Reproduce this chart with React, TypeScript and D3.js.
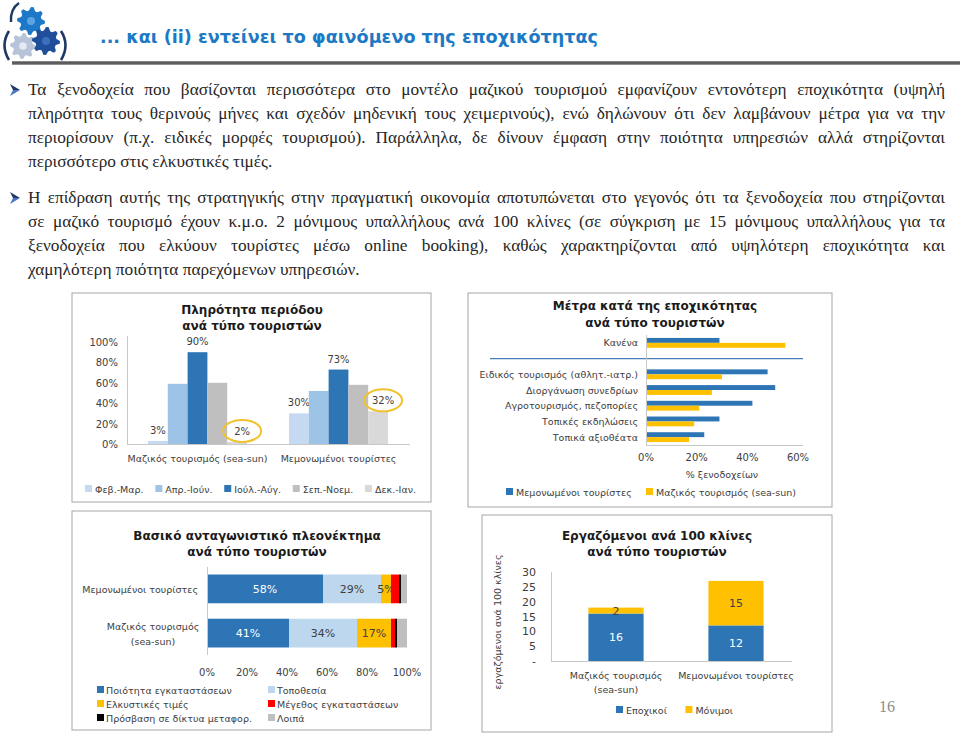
import { useEffect, useRef } from "react";
import * as d3 from "d3";

const SANS = "'DejaVu Sans', Verdana, sans-serif";
const SERIF = "'Liberation Serif', 'Times New Roman', serif";
const INK = "#404040";
const AXIS = "#c8c8c8";
const BLUE = "#2e75b6";
const GOLD = "#ffc000";

/* ---- page text ---- */
const TITLE = "... και (ii) εντείνει το φαινόμενο της εποχικότητας";
const PARA_1 = [
  "Τα ξενοδοχεία που βασίζονται περισσότερα στο μοντέλο μαζικού τουρισμού εμφανίζουν εντονότερη εποχικότητα (υψηλή",
  "πληρότητα τους θερινούς μήνες και σχεδόν μηδενική τους χειμερινούς), ενώ δηλώνουν ότι δεν λαμβάνουν μέτρα για να την",
  "περιορίσουν (π.χ. ειδικές μορφές τουρισμού). Παράλληλα, δε δίνουν έμφαση στην ποιότητα υπηρεσιών αλλά στηρίζονται",
  "περισσότερο στις ελκυστικές τιμές.",
];
const PARA_2 = [
  "Η επίδραση αυτής της στρατηγικής στην πραγματική οικονομία αποτυπώνεται στο γεγονός ότι τα ξενοδοχεία που στηρίζονται",
  "σε μαζικό τουρισμό έχουν κ.μ.ο. 2 μόνιμους υπαλλήλους ανά 100 κλίνες (σε σύγκριση με 15 μόνιμους υπαλλήλους για τα",
  "ξενοδοχεία που ελκύουν τουρίστες μέσω online booking), καθώς χαρακτηρίζονται από υψηλότερη εποχικότητα και",
  "χαμηλότερη ποιότητα παρεχόμενων υπηρεσιών.",
];

/* ---- chart 1: occupancy by period ---- */
const occGroups = ["Μαζικός τουρισμός (sea-sun)", "Μεμονωμένοι τουρίστες"];
const occPeriods = ["Φεβ.-Μαρ.", "Απρ.-Ιούν.", "Ιούλ.-Αύγ.", "Σεπ.-Νοεμ.", "Δεκ.-Ιαν."];
const occMass = [3, 59, 90, 60, 2];
const occIndividual = [30, 52, 73, 58, 32];
const occTicks = [0, 20, 40, 60, 80, 100];
const occLabelled = ["Φεβ.-Μαρ.", "Ιούλ.-Αύγ.", "Δεκ.-Ιαν."];
const occCircled = ["Δεκ.-Ιαν."];
const occColors = ["#c5d9f0", "#9dc3e6", "#2e75b6", "#bfbfbf", "#d9d9d9"];

/* ---- chart 2: measures against seasonality ---- */
const measures = [
  "Κανένα",
  "Ειδικός τουρισμός (αθλητ.-ιατρ.)",
  "Διοργάνωση συνεδρίων",
  "Αγροτουρισμός, πεζοπορίες",
  "Τοπικές εκδηλώσεις",
  "Τοπικά αξιοθέατα",
];
const measSeries = ["Μεμονωμένοι τουρίστες", "Μαζικός τουρισμός (sea-sun)"];
const measIndividual = [29, 48, 51, 42, 29, 23];
const measMass = [55, 30, 26, 21, 19, 17];
const measTicks = [0, 20, 40, 60];

/* ---- chart 3: competitive advantage ---- */
const advCats = ["Μεμονωμένοι τουρίστες", "Μαζικός τουρισμός (sea-sun)"];
const advKeys = [
  "Ποιότητα εγκαταστάσεων",
  "Τοποθεσία",
  "Ελκυστικές τιμές",
  "Μέγεθος εγκαταστάσεων",
  "Πρόσβαση σε δίκτυα μεταφορ.",
  "Λοιπά",
];
const advIndividual = [58, 29, 5, 4, 1, 3];
const advMass = [41, 34, 17, 2, 1, 5];
const advTicks = [0, 20, 40, 60, 80, 100];
const advColors = ["#2e75b6", "#bdd7ee", "#ffc000", "#ff0000", "#000000", "#bfbfbf"];

/* ---- chart 4: staff per 100 beds ---- */
const staffCats = ["Μαζικός τουρισμός (sea-sun)", "Μεμονωμένοι τουρίστες"];
const staffKeys = ["Εποχικοί", "Μόνιμοι"];
const staffSeasonal = [16, 12];
const staffPermanent = [2, 15];
const staffTicks = [0, 5, 10, 15, 20, 25, 30];

let ctx: CanvasRenderingContext2D | null = null;
function textW(s: string, font: string) {
  if (!ctx) ctx = document.createElement("canvas").getContext("2d");
  ctx!.font = font;
  return ctx!.measureText(s).width;
}

const LBL = { fontFamily: SANS, fontSize: 10, fill: INK } as const;
const CAT = { fontFamily: SANS, fontSize: 9.5, fill: INK } as const;
const TTL = { fontFamily: SANS, fontSize: 12, fontWeight: 700, fill: "#1a1a1a", textAnchor: "middle" } as const;

function Legend({ items, colors, x0, x1, y }: { items: string[]; colors: string[]; x0: number; x1: number; y: number }) {
  const widths = items.map((s) => 10 + textW(s, `9.5px ${SANS}`));
  const gap = items.length > 1 ? (x1 - x0 - d3.sum(widths)) / (items.length - 1) : 0;
  let x = x0;
  return (
    <g>
      {items.map((s, i) => {
        const gx = x;
        x += widths[i] + gap;
        return (
          <g key={s}>
            <rect x={gx} y={y - 4} width={7} height={7} fill={colors[i]} />
            <text x={gx + 10} y={y + 3.5} {...CAT}>{s}</text>
          </g>
        );
      })}
    </g>
  );
}

function gearPath(cx: number, cy: number, r: number, teeth: number) {
  const pts: [number, number][] = [];
  const n = teeth * 4;
  for (let i = 0; i < n; i++) {
    const a = (i / n) * 2 * Math.PI;
    const rr = i % 4 < 2 ? r : r * 0.76;
    pts.push([cx + rr * Math.cos(a), cy + rr * Math.sin(a)]);
  }
  return d3.line()(pts) + "Z";
}

function Bullet({ y }: { y: number }) {
  return (
    <g>
      <path d={`M10,${y - 6} L20,${y} L13,${y} Z`} fill="#1f3864" />
      <path d={`M10,${y + 6} L20,${y} L13,${y} Z`} fill="#4a78c0" />
    </g>
  );
}

function OccupancyChart() {
  const x = d3.scaleBand().domain(occGroups).range([127, 409]);
  const inner = d3.scaleBand().domain(occPeriods).range([0, x.bandwidth()]).paddingOuter(1.06);
  const y = d3.scaleLinear().domain([0, 100]).range([444, 342]);
  const series = [occMass, occIndividual];
  return (
    <g>
      <rect x={72} y={293} width={359} height={209} fill="#fff" stroke="#a6a6a6" />
      <text x={252} y={314} {...TTL}>Πληρότητα περιόδου</text>
      <text x={252} y={330} {...TTL}>ανά τύπο τουριστών</text>
      {occTicks.map((t) => (
        <text key={t} x={118} y={y(t) + 4} textAnchor="end" {...LBL}>{t}%</text>
      ))}
      <line x1={127.5} x2={127.5} y1={y(100) - 6} y2={y(0)} stroke={AXIS} />
      <line x1={127} x2={410} y1={y(0) + 0.5} y2={y(0) + 0.5} stroke={AXIS} />
      {occGroups.map((g, gi) =>
        occPeriods.map((p, pi) => {
          const v = series[gi][pi];
          const bx = x(g)! + inner(p)!;
          const cx = bx + inner.bandwidth() / 2;
          return (
            <g key={g + p}>
              <rect x={bx} y={y(v)} width={inner.bandwidth()} height={y(0) - y(v)} fill={occColors[pi]} />
              {occLabelled.includes(p) && (
                <text x={cx + (occCircled.includes(p) ? 5 : 0)} y={y(v) - 7} textAnchor="middle" {...LBL}>{v}%</text>
              )}
              {occCircled.includes(p) && (
                <ellipse cx={cx + 5} cy={y(v) - 11} rx={19} ry={11} fill="none" stroke="#f2c12e" strokeWidth={2} />
              )}
            </g>
          );
        })
      )}
      {occGroups.map((g) => (
        <text key={g} x={x(g)! + x.bandwidth() / 2} y={462} textAnchor="middle" {...CAT}>{g}</text>
      ))}
      <Legend items={occPeriods} colors={occColors} x0={85} x1={416} y={489} />
    </g>
  );
}

function MeasuresChart() {
  const GAP = "__gap";
  const y = d3.scaleBand().domain([measures[0], GAP, ...measures.slice(1)]).range([335, 445]);
  const inner = d3.scaleBand().domain(measSeries).range([0, y.bandwidth()]).paddingOuter(0.6);
  const x = d3.scaleLinear().domain([0, 60]).range([646, 798]);
  const series = [measIndividual, measMass];
  const colors = [BLUE, GOLD];
  return (
    <g>
      <rect x={468} y={293} width={364} height={214} fill="#fff" stroke="#a6a6a6" />
      <text x={655} y={310} {...TTL}>Μέτρα κατά της εποχικότητας</text>
      <text x={655} y={327} {...TTL}>ανά τύπο τουριστών</text>
      {measures.map((m, mi) => (
        <g key={m}>
          <text x={638} y={y(m)! + y.bandwidth() / 2 + 3.5} textAnchor="end" {...CAT}>{m}</text>
          {measSeries.map((s, si) => (
            <rect key={s} x={x(0)} y={y(m)! + inner(s)!} width={x(series[si][mi]) - x(0)}
              height={inner.bandwidth()} fill={colors[si]} />
          ))}
        </g>
      ))}
      <line x1={490} x2={803} y1={y(GAP)! + y.bandwidth() / 2} y2={y(GAP)! + y.bandwidth() / 2} stroke="#4a7ebb" strokeWidth={1.2} />
      <line x1={646.5} x2={646.5} y1={335} y2={445} stroke={AXIS} />
      <line x1={646} x2={803} y1={445.5} y2={445.5} stroke={AXIS} />
      {measTicks.map((t) => (
        <text key={t} x={x(t)} y={461} textAnchor="middle" {...LBL}>{t}%</text>
      ))}
      <text x={722} y={478} textAnchor="middle" {...CAT}>% ξενοδοχείων</text>
      <Legend items={measSeries} colors={colors} x0={506} x1={796} y={492} />
    </g>
  );
}

function AdvantageChart() {
  const rows = advCats.map((c, i) => {
    const vals = [advIndividual, advMass][i];
    const r: Record<string, number | string> = { cat: c };
    advKeys.forEach((k, j) => (r[k] = vals[j]));
    return r;
  });
  const stacked = d3.stack<Record<string, number | string>>().keys(advKeys)(rows as any);
  const y = d3.scaleBand().domain(advCats).range([567, 655]).paddingInner(0.35).paddingOuter(0.17);
  const x = d3.scaleLinear().domain([0, 100]).range([207, 407]);
  return (
    <g>
      <rect x={72} y={511} width={359} height={219} fill="#fff" stroke="#a6a6a6" />
      <text x={257} y={540} {...TTL}>Βασικό ανταγωνιστικό πλεονέκτημα</text>
      <text x={257} y={556} {...TTL}>ανά τύπο τουριστών</text>
      {stacked.map((layer, li) =>
        layer.map((seg, ci) => {
          const v = seg[1] - seg[0];
          const cat = advCats[ci];
          return (
            <g key={layer.key + cat}>
              <rect x={x(seg[0])} y={y(cat)} width={x(seg[1]) - x(seg[0])} height={y.bandwidth()} fill={advColors[li]} />
              {li < 3 && (
                <text x={(x(seg[0]) + x(seg[1])) / 2} y={y(cat)! + y.bandwidth() / 2 + 4} textAnchor="middle"
                  {...LBL} fontSize={11} fill={li === 0 ? "#fff" : INK}>{v}%</text>
              )}
            </g>
          );
        })
      )}
      {advCats.map((c) => {
        const lines = c.replace(" (", "\n(").split("\n");
        const cy = y(c)! + y.bandwidth() / 2;
        return lines.length === 1 ? (
          <text key={c} x={198} y={cy + 4} textAnchor="end" {...CAT}>{c}</text>
        ) : (
          <g key={c}>
            {lines.map((l, i) => (
              <text key={l} x={153} y={cy + 4 + (i - (lines.length - 1) / 2) * 15} textAnchor="middle" {...CAT}>{l}</text>
            ))}
          </g>
        );
      })}
      <line x1={207.5} x2={207.5} y1={567} y2={655} stroke={AXIS} />
      {advTicks.map((t) => (
        <text key={t} x={x(t)} y={676} textAnchor="middle" {...LBL}>{t}%</text>
      ))}
      {advKeys.map((k, i) => {
        const lx = i % 2 === 0 ? 97 : 268;
        const ly = 690 + Math.floor(i / 2) * 14;
        return (
          <g key={k}>
            <rect x={lx} y={ly - 4} width={7} height={7} fill={advColors[i]} />
            <text x={lx + 9} y={ly + 3.5} {...CAT}>{k}</text>
          </g>
        );
      })}
    </g>
  );
}

function StaffChart() {
  const rows = staffCats.map((c, i) => ({ cat: c, [staffKeys[0]]: staffSeasonal[i], [staffKeys[1]]: staffPermanent[i] }));
  const stacked = d3.stack<any>().keys(staffKeys)(rows);
  const x = d3.scaleBand().domain(staffCats).range([556, 796]).paddingInner(0.54).paddingOuter(0.27);
  const y = d3.scaleLinear().domain([0, 30]).range([661, 572]);
  const colors = [BLUE, GOLD];
  return (
    <g>
      <rect x={482} y={515} width={350} height={217} fill="#fff" stroke="#a6a6a6" />
      <text x={657} y={540} {...TTL}>Εργαζόμενοι ανά 100 κλίνες</text>
      <text x={657} y={556} {...TTL}>ανά τύπο τουριστών</text>
      <text transform="translate(501,622) rotate(-90)" textAnchor="middle" {...CAT}>εργαζόμενοι ανά 100 κλίνες</text>
      {staffTicks.map((t) => (
        <text key={t} x={536} y={y(t) + 4} textAnchor="end" {...LBL} fontSize={11}>{t === 0 ? "-" : t}</text>
      ))}
      <line x1={551.5} x2={551.5} y1={572} y2={661} stroke={AXIS} />
      <line x1={551} x2={792} y1={661.5} y2={661.5} stroke={AXIS} />
      {stacked.map((layer, li) =>
        layer.map((seg, ci) => {
          const cat = staffCats[ci];
          const v = seg[1] - seg[0];
          const cx = x(cat)! + x.bandwidth() / 2;
          return (
            <g key={layer.key + cat}>
              <rect x={x(cat)} y={y(seg[1])} width={x.bandwidth()} height={y(seg[0]) - y(seg[1])} fill={colors[li]} />
              <text x={cx} y={y((seg[0] + seg[1]) / 2) + 4} textAnchor="middle" {...LBL} fontSize={11}
                fill={li === 0 ? "#fff" : INK}>{v}</text>
            </g>
          );
        })
      )}
      {staffCats.map((c) => {
        const lines = c.replace(" (", "\n(").split("\n");
        return lines.map((l, i) => (
          <text key={l} x={x(c)! + x.bandwidth() / 2} y={679 + i * 14} textAnchor="middle" {...CAT}>{l}</text>
        ));
      })}
      <Legend items={staffKeys} colors={colors} x0={616} x1={733} y={710} />
    </g>
  );
}

const BODY_SX = 1.08;

export default function App() {
  const svgRef = useRef<SVGSVGElement>(null);

  // justify the body text lines by spreading the word gaps
  useEffect(() => {
    if (!svgRef.current) return;
    d3.select(svgRef.current)
      .selectAll<SVGTextElement, unknown>("text.just")
      .each(function () {
        this.style.wordSpacing = "0px";
        const natural = this.getComputedTextLength();
        const spaces = (this.textContent || "").split(" ").length - 1;
        const target = +(this.getAttribute("data-w") || 0);
        if (spaces > 0) this.style.wordSpacing = `${(target - natural) / spaces}px`;
      });
  }, []);

  const bodyLines = (lines: string[], y0: number) =>
    lines.map((l, i) => (
      <text key={l} className={i < lines.length - 1 ? "just" : undefined} data-w={917 / BODY_SX}
        transform={`translate(28,${y0 + i * 24}) scale(${BODY_SX},1)`}
        fontFamily={SERIF} fontSize={16} fill="#262626">{l}</text>
    ));

  return (
    <div style={{ position: "fixed", left: 0, top: 0 }}>
      <svg ref={svgRef} width={960} height={734} style={{ display: "block", background: "#fff" }}>
        <defs>
          <linearGradient id="rule" x1="0" y1="0" x2="0" y2="1">
            <stop offset="0%" stopColor="#9a9a9a" />
            <stop offset="50%" stopColor="#454545" />
            <stop offset="100%" stopColor="#a8a8a8" />
          </linearGradient>
        </defs>

        {/* header icon */}
        <path d="M19,3 Q10,9 11,22" fill="none" stroke="#1f3864" strokeWidth={2.4} />
        <path d="M9,31 Q0,45 9,60" fill="none" stroke="#1f3864" strokeWidth={2.6} />
        <path d="M61,31 Q70,45 61,60" fill="none" stroke="#1f3864" strokeWidth={2.6} />
        <path d={gearPath(31, 21, 14, 8)} fill="#1e78c8" />
        <circle cx={31} cy={21} r={4} fill="#5fa3e0" />
        <path d={gearPath(23, 46, 13, 8)} fill="#b7c3d8" />
        <circle cx={23} cy={46} r={3.8} fill="#e4e9f2" />
        <path d={gearPath(46, 41, 14, 8)} fill="#1f4e9a" />
        <circle cx={46} cy={41} r={4} fill="#3d6fbf" />
        <text x={100} y={43} fontFamily={SANS} fontSize={17} fontWeight={700} fill="#1d79c4"
          textLength={498} lengthAdjust="spacingAndGlyphs">{TITLE}</text>
        <rect x={12} y={61} width={948} height={4} fill="url(#rule)" />

        {/* body text */}
        {[95, 203].map((y) => <Bullet key={y} y={y - 5} />)}
        {bodyLines(PARA_1, 95)}
        {bodyLines(PARA_2, 203)}

        <OccupancyChart />
        <MeasuresChart />
        <AdvantageChart />
        <StaffChart />

        <text x={887} y={712} textAnchor="middle" fontFamily={SERIF} fontSize={16} fill="#8c8c8c">16</text>
      </svg>
    </div>
  );
}
